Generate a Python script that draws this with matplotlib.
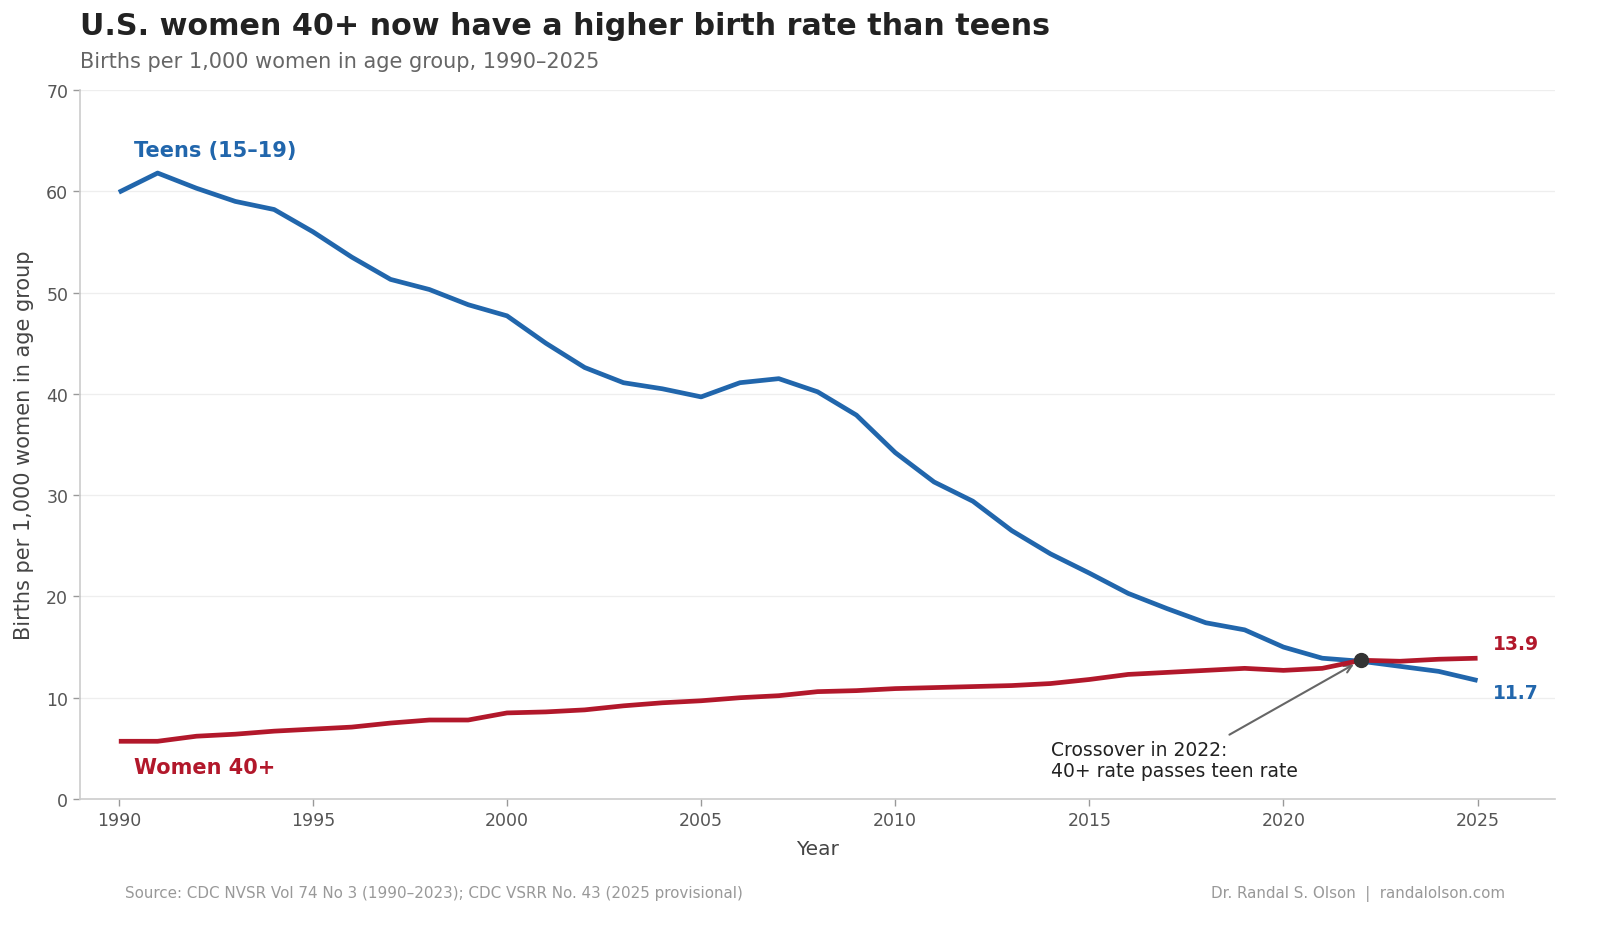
import numpy as np
import matplotlib
matplotlib.use("Agg")
from matplotlib import pyplot as plt

years = list(range(1990, 2026))

# births per 1,000 women
teens = [59.9, 61.8, 60.3, 59.0, 58.2, 56.0, 53.5, 51.3, 50.3, 48.8,
         47.7, 45.0, 42.6, 41.1, 40.5, 39.7, 41.1, 41.5, 40.2, 37.9,
         34.2, 31.3, 29.4, 26.5, 24.2, 22.3, 20.3, 18.8, 17.4, 16.7,
         15.0, 13.9, 13.6, 13.1, 12.6, 11.7]
women40 = [5.7, 5.7, 6.2, 6.4, 6.7, 6.9, 7.1, 7.5, 7.8, 7.8,
           8.5, 8.6, 8.8, 9.2, 9.5, 9.7, 10.0, 10.2, 10.6, 10.7,
           10.9, 11.0, 11.1, 11.2, 11.4, 11.8, 12.3, 12.5, 12.7, 12.9,
           12.7, 12.9, 13.7, 13.6, 13.8, 13.9]

crossover_year = 2022
crossover_value = 13.7
x_ticks = [1990, 1995, 2000, 2005, 2010, 2015, 2020, 2025]
y_ticks = [0, 10, 20, 30, 40, 50, 60, 70]

BLUE = "#2166ac"
RED = "#b2182b"

plt.rcParams["font.family"] = ["DejaVu Sans"]

fig = plt.figure(figsize=(16, 9.37), dpi=100)
ax = fig.add_axes([0.05, 0.1462, 0.922, 0.7567])

ax.plot(years, teens, color=BLUE, lw=3.4, solid_capstyle="butt", zorder=3)
ax.plot(years, women40, color=RED, lw=3.4, solid_capstyle="butt", zorder=4)
ax.plot([crossover_year], [crossover_value], "o", color="#333333",
        markersize=10, zorder=5)

ax.set_xlim(1989, 2027)
ax.set_ylim(0, 70)
ax.set_xticks(x_ticks)
ax.set_yticks(y_ticks)
ax.tick_params(colors="#555555", labelsize=12.5, length=5, width=1)
ax.tick_params(axis="both", color="#999999")
for lbl in ax.get_xticklabels() + ax.get_yticklabels():
    lbl.set_color("#555555")

ax.grid(axis="y", color="#eeeeee", lw=0.9, zorder=0)
ax.set_axisbelow(True)
for side in ("top", "right"):
    ax.spines[side].set_visible(False)
for side in ("left", "bottom"):
    ax.spines[side].set_color("#cccccc")
    ax.spines[side].set_linewidth(1.2)

ax.set_xlabel("Year", fontsize=14.5, color="#444444", labelpad=7)
ax.set_ylabel("Births per 1,000 women in age group", fontsize=15,
              color="#444444", labelpad=9)

# series labels
ax.text(1990.4, 64.1, "Teens (15\u201319)", color=BLUE, fontsize=15,
        fontweight="bold", va="center", ha="left")
ax.text(1990.4, 3.2, "Women 40+", color=RED, fontsize=15,
        fontweight="bold", va="center", ha="left")
ax.text(2025.4, women40[-1] + 1.5, f"{women40[-1]:.1f}", color=RED,
        fontsize=13.5, fontweight="bold", va="center", ha="left")
ax.text(2025.4, teens[-1] - 1.2, f"{teens[-1]:.1f}", color=BLUE,
        fontsize=13.5, fontweight="bold", va="center", ha="left")

ax.annotate("Crossover in 2022:\n40+ rate passes teen rate",
            xy=(crossover_year, crossover_value), xytext=(2014, 1.9),
            fontsize=13.5, color="#222222", ha="left", va="bottom",
            linespacing=1.15,
            arrowprops=dict(arrowstyle="->", color="#666666", lw=1.5,
                            relpos=(0.69, 1.0), shrinkA=3, shrinkB=6))

fig.text(0.05, 0.972, "U.S. women 40+ now have a higher birth rate than teens",
         fontsize=21.7, fontweight="bold", color="#222222", va="center")
fig.text(0.05, 0.934, "Births per 1,000 women in age group, 1990\u20132025",
         fontsize=15, color="#666666", va="center")
fig.text(0.078, 0.046,
         "Source: CDC NVSR Vol 74 No 3 (1990\u20132023); CDC VSRR No. 43 (2025 provisional)",
         fontsize=10.9, color="#999999", va="center")
fig.text(0.9406, 0.046, "Dr. Randal S. Olson  |  randalolson.com",
         fontsize=10.9, color="#999999", va="center", ha="right")

fig.savefig("out.png", dpi=100)
